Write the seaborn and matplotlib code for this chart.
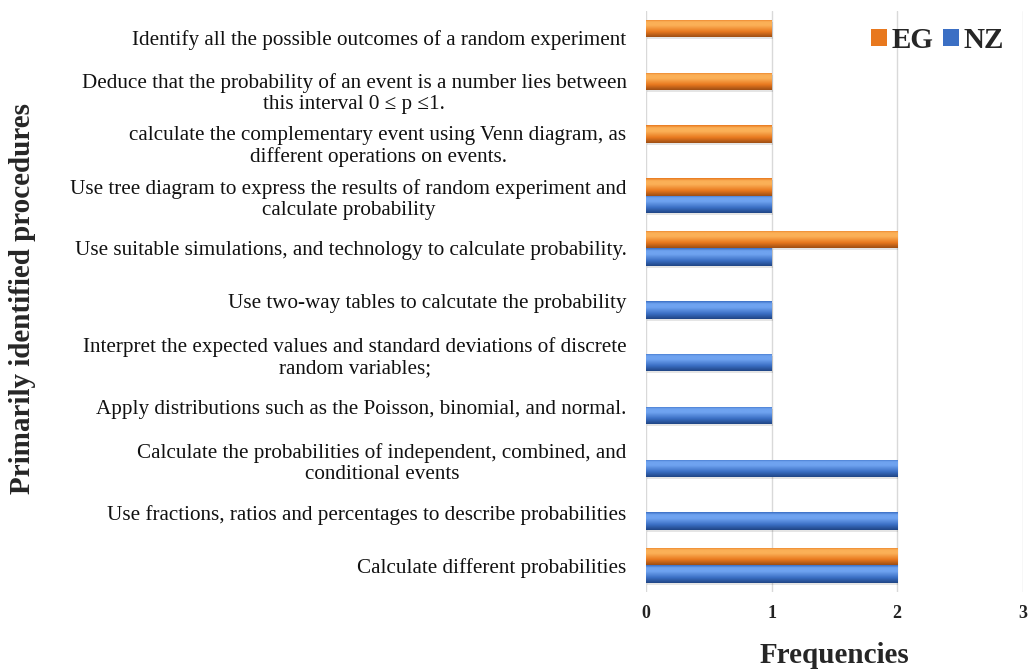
import numpy as np
import pandas as pd
import matplotlib
matplotlib.use("Agg")
import matplotlib.pyplot as plt
from matplotlib.patches import Patch, Rectangle
from matplotlib.colors import to_rgb
import seaborn as sns

# ---- data -------------------------------------------------------------
procedures = [
    "Identify all the possible outcomes of a random experiment",
    "Deduce that the probability of an event is a number lies between\nthis interval 0 \u2264 p \u22641.",
    "calculate the complementary event using Venn diagram, as\ndifferent operations on events.",
    "Use tree diagram to express the results of random experiment and\ncalculate probability",
    "Use suitable simulations, and technology to calculate probability.",
    "Use two-way tables to calcutate the probability",
    "Interpret the expected values and standard deviations of discrete\nrandom variables;",
    "Apply distributions such as the Poisson, binomial, and normal.",
    "Calculate the probabilities of independent, combined, and\nconditional events",
    "Use fractions, ratios and percentages to describe probabilities",
    "Calculate different probabilities",
]
eg_values = [1, 1, 1, 1, 2, 0, 0, 0, 0, 0, 2]
nz_values = [0, 0, 0, 1, 1, 1, 1, 1, 2, 2, 2]
series_names = ["EG", "NZ"]
x_ticks = [0, 1, 2, 3]

df = pd.DataFrame({
    "procedure": procedures * 2,
    "frequency": eg_values + nz_values,
    "country": ["EG"] * len(procedures) + ["NZ"] * len(procedures),
})

# ---- style ------------------------------------------------------------
sns.set_theme(style="white")
plt.rcParams["font.family"] = ["Liberation Serif", "DejaVu Serif"]

base_colors = {"EG": "#E8781E", "NZ": "#3B6FC4"}
light_colors = {"EG": "#FBB057", "NZ": "#6FA3F0"}
dark_colors = {"EG": "#9E4E14", "NZ": "#1F4585"}

fig = plt.figure(figsize=(10.32, 6.70), dpi=100)
ax = fig.add_axes([0.626, 0.117, 0.365, 0.867])

sns.barplot(
    data=df, y="procedure", x="frequency", hue="country",
    hue_order=series_names, order=procedures, orient="h",
    palette=base_colors, width=0.66, dodge=True, ax=ax,
    legend=False, saturation=1, edgecolor="none",
)

xlim = (0, 3)
ylim = ax.get_ylim()


def gradient_for(name, n=64):
    """Cylinder-like vertical shading: light band near the top, dark at the bottom."""
    lt = np.array(to_rgb(light_colors[name]))
    md = np.array(to_rgb(base_colors[name]))
    dk = np.array(to_rgb(dark_colors[name]))
    t = np.linspace(0, 1, n)
    rows = []
    for v in t:
        if v < 0.15:
            c = md + (lt - md) * (v / 0.15)
        elif v < 0.35:
            c = lt
        elif v < 0.7:
            c = lt + (md - lt) * ((v - 0.35) / 0.35)
        else:
            c = md + (dk - md) * ((v - 0.7) / 0.3)
        rows.append(c)
    return np.array(rows)[:, None, :]


# Shade every bar with a gradient clipped to its own rectangle
for container, name in zip(ax.containers, series_names):
    for patch in container:
        w = patch.get_width()
        if w <= 0:
            continue
        x0 = patch.get_x()
        y0 = patch.get_y()
        h = patch.get_height()
        # soft drop shadow
        shadow = Rectangle((x0 + 0.01, y0 + h * 0.12), w, h, facecolor="black",
                           alpha=0.10, edgecolor="none", zorder=1.5)
        ax.add_patch(shadow)
        patch.set_zorder(2)
        img = ax.imshow(gradient_for(name), extent=(x0, x0 + w, y0 + h, y0),
                        origin="upper", aspect="auto", zorder=2.5,
                        interpolation="bilinear")
        img.set_clip_path(patch)

ax.set_xlim(*xlim)
ax.set_ylim(*ylim)

# ---- axes decoration ---------------------------------------------------
ax.set_xticks(x_ticks)
ax.set_xticklabels([str(t) for t in x_ticks], fontweight="bold", fontsize=13,
                   color="#222222")
ax.grid(axis="x", color="#D9D9D9", linewidth=1.0, zorder=0)
ax.set_axisbelow(True)
for s in ax.spines.values():
    s.set_visible(False)
ax.tick_params(axis="x", length=0, pad=10)
ax.tick_params(axis="y", length=0, pad=14)
for lab in ax.get_yticklabels():
    lab.set_fontsize(15.2)
    lab.set_color("#111111")
    lab.set_multialignment("center")
    lab.set_linespacing(1.15)

ax.set_ylabel("")
ax.set_xlabel("Frequencies", fontsize=21, fontweight="bold", labelpad=14)

fig.text(0.022, 0.555, "Primarily identified procedures", rotation=90,
         fontsize=21, fontweight="bold", ha="center", va="center")

handles = [Patch(facecolor=base_colors[n], edgecolor="none", label=n)
           for n in series_names]
fig.legend(handles=handles, loc="center right", bbox_to_anchor=(0.99, 0.94),
           ncol=2, frameon=False, handlelength=0.55, handleheight=0.55,
           handletextpad=0.15, columnspacing=0.35, borderpad=0.1,
           prop={"family": "Liberation Serif", "weight": "bold", "size": 21})

fig.savefig("out.png", dpi=100, facecolor="white")
